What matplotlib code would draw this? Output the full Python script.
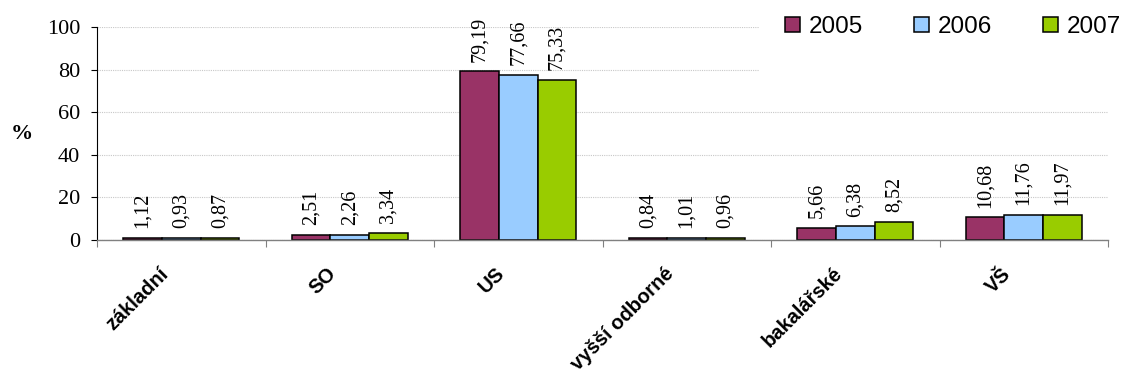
import numpy as np
import matplotlib
matplotlib.use("Agg")
import matplotlib.pyplot as plt
from matplotlib.patches import Rectangle
from matplotlib.transforms import ScaledTranslation

categories = ["základní", "SO", "US", "vyšší odborné", "bakalářské", "VŠ"]
years = ["2005", "2006", "2007"]
values_2005 = [1.12, 2.51, 79.19, 0.84, 5.66, 10.68]
values_2006 = [0.93, 2.26, 77.66, 1.01, 6.38, 11.76]
values_2007 = [0.87, 3.34, 75.33, 0.96, 8.52, 11.97]
colors = ["#993366", "#99CCFF", "#99CC00"]

series = [values_2005, values_2006, values_2007]

fig = plt.figure(figsize=(11.23, 3.79), dpi=100)
ax = fig.add_axes([97 / 1123, 1 - 240 / 379, (1108 - 97) / 1123, (240 - 27) / 379])

x = np.arange(len(categories))
width = 0.23
handles = []
for i, (vals, col, yr) in enumerate(zip(series, colors, years)):
    pos = x + (i - 1) * width
    bars = ax.bar(pos, vals, width=width, color=col, edgecolor="black",
                  linewidth=1.1, label=yr, zorder=3)
    handles.append(bars)
    for xp, v in zip(pos, vals):
        ax.annotate(f"{v:.2f}".replace(".", ","), (xp, v),
                    xytext=(0, 7), textcoords="offset points",
                    rotation=90, ha="center", va="bottom",
                    fontsize=14.5, family="Liberation Serif", zorder=4)

ax.set_xlim(-0.5, len(categories) - 0.5)
ax.set_ylim(0, 100)
ax.set_yticks(np.arange(0, 101, 20))
ax.yaxis.grid(True, color="#c8c8c8", linewidth=0.8, linestyle=(0, (1, 1)), zorder=0)
ax.set_axisbelow(True)

for lab in ax.get_yticklabels():
    lab.set_family("Liberation Serif")
    lab.set_fontsize(16)
ax.tick_params(axis="y", direction="out", length=4.5, width=0.8, color="black", pad=7.5)

# category names, rotated, ending a little left of each group centre
ax.set_xticks(x)
ax.set_xticklabels([])
ax.tick_params(axis="x", which="major", length=0)
label_shift = ScaledTranslation(-0.23, -0.24, fig.dpi_scale_trans)
for xi, name in zip(x, categories):
    ax.text(xi, 0, name, transform=ax.get_xaxis_transform() + label_shift,
            rotation=45, ha="right", va="top", rotation_mode="anchor",
            fontsize=14.5, family="Liberation Sans", fontweight="bold")

ax.set_xticks(np.arange(-0.5, len(categories), 1.0), minor=True)
ax.tick_params(axis="x", which="minor", direction="out", length=5, width=0.8, color="#808080")

for s in ["top", "right"]:
    ax.spines[s].set_visible(False)
ax.spines["left"].set_color("black")
ax.spines["left"].set_linewidth(0.8)
ax.spines["bottom"].set_color("#808080")
ax.spines["bottom"].set_linewidth(1.0)
ax.spines["bottom"].set_zorder(5)

fig.text(22 / 1123, 1 - 134 / 379, "%", family="Liberation Serif",
         fontweight="bold", fontsize=16, ha="center", va="center")

# white panel behind the legend, covering the gridlines there
fig.patches.append(Rectangle((759 / 1123, 1 - 80 / 379), 1, 1,
                             transform=fig.transFigure, facecolor="white",
                             edgecolor="none", zorder=1))

leg = fig.legend(handles=handles, labels=years, loc="center right",
                 bbox_to_anchor=(1.0, 1 - 27 / 379), ncol=3, frameon=False,
                 prop={"family": "Liberation Sans", "size": 17.5},
                 handlelength=0.62, handleheight=0.62, handletextpad=0.35,
                 columnspacing=2.1, borderaxespad=0.0, borderpad=0.1)

fig.savefig("out.png", dpi=100)
